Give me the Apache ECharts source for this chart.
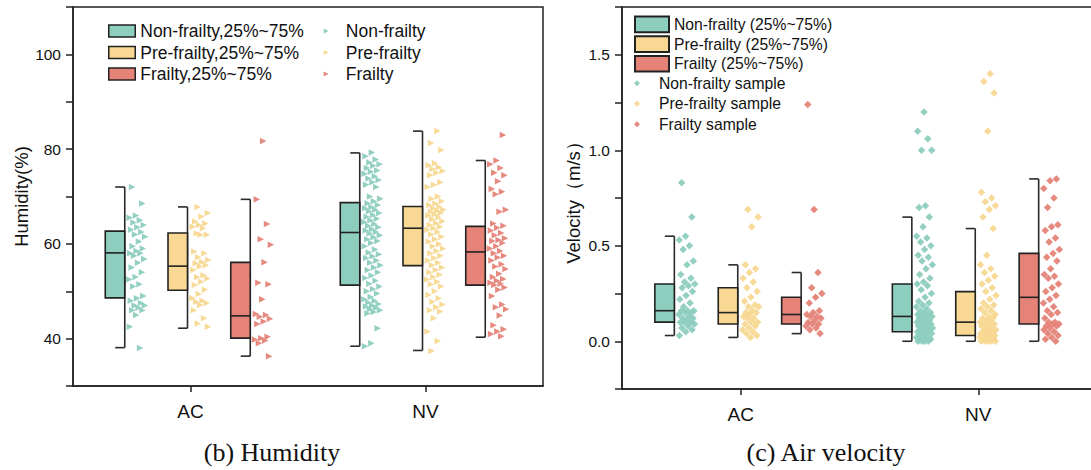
<!DOCTYPE html>
<html><head><meta charset="utf-8">
<script src="https://cdn.jsdelivr.net/npm/echarts@6/dist/echarts.min.js"></script>
<style>html,body{margin:0;padding:0;background:#fff}#c{width:1091px;height:470px}</style>
</head><body><div id="c"></div>
<script>
// ---------------- data ----------------
const categories = ['AC', 'NV'];
const humTickLabels = [40, 60, 80, 100];
const velTickLabels = [0, 0.5, 1.0, 1.5];

// box statistics [lower whisker, Q1, median, Q3, upper whisker] per category (AC, NV)
const humBoxNon = [[38.1, 48.6, 58.1, 62.7, 72.0], [38.4, 51.3, 62.4, 68.7, 79.2]];
const humBoxPre = [[42.2, 50.2, 55.3, 62.3, 67.8], [37.5, 55.4, 63.3, 67.9, 83.8]];
const humBoxFra = [[36.3, 40.1, 44.8, 56.1, 69.4], [40.3, 51.3, 58.3, 63.7, 77.6]];
const velBoxNon = [[0.03, 0.10, 0.16, 0.30, 0.55], [0.00, 0.05, 0.13, 0.30, 0.65]];
const velBoxPre = [[0.02, 0.09, 0.15, 0.28, 0.40], [0.00, 0.03, 0.10, 0.26, 0.59]];
const velBoxFra = [[0.04, 0.09, 0.14, 0.23, 0.36], [0.00, 0.09, 0.23, 0.46, 0.85]];

// humidity samples
const humNonAC = [72.0,68.5,66.0,65.5,65.0,64.5,64.0,63.5,63.0,62.5,62.0,61.5,60.5,59.5,59.0,58.5,58.0,58.0,57.5,56.8,56.0,55.0,54.0,53.0,52.5,51.5,51.0,49.0,48.5,48.0,47.5,47.0,47.0,46.5,46.0,46.0,45.0,42.5,38.0];
const humNonNV = [79.3,78.5,77.8,77.2,76.8,76.5,76.0,75.5,75.2,74.8,74.3,73.8,73.5,73.0,72.5,72.0,70.0,69.5,69.0,68.6,68.2,67.8,67.5,67.2,66.9,66.5,66.1,65.7,65.3,65.0,64.6,64.2,63.8,63.5,63.1,62.8,62.5,62.2,61.8,61.4,61.0,60.6,60.2,59.5,58.8,58.2,57.8,57.4,57.0,56.5,56.0,55.5,55.0,54.5,54.0,53.3,52.8,52.2,51.6,51.0,50.5,50.0,49.5,48.8,48.3,48.0,47.6,47.3,47.0,46.8,46.5,46.2,46.0,45.6,45.3,42.2,39.0,38.4];
const humPreAC = [67.8,66.5,65.8,64.7,64.3,64.0,63.6,63.3,62.2,61.9,61.9,58.4,58.0,57.2,56.6,56.2,55.9,55.5,55.2,54.5,53.4,53.0,52.7,52.0,51.3,50.3,49.4,48.5,48.0,47.8,47.5,47.1,46.0,44.3,43.2,42.5];
const humPreNV = [83.8,81.3,79.8,77.0,76.6,76.2,75.8,75.4,75.0,74.5,73.0,72.5,72.0,70.0,69.5,69.0,68.5,68.2,67.8,67.5,67.2,67.0,66.8,66.5,66.2,66.0,65.6,65.2,64.8,64.4,64.0,63.6,63.3,63.0,62.5,62.0,61.5,61.0,60.5,60.0,59.5,59.0,58.5,58.0,57.5,57.0,56.5,56.0,55.5,55.0,54.5,54.0,53.5,53.0,52.5,52.0,51.5,51.0,50.0,49.2,48.5,47.8,47.2,46.6,46.0,45.7,44.3,41.5,39.5,37.4];
const humFraAC = [81.7,69.4,64.2,61.0,59.8,56.1,51.8,51.5,48.3,45.2,45.0,44.6,44.2,43.6,43.1,40.4,40.1,39.8,39.6,39.0,36.3];
const humFraNV = [83.0,77.6,76.8,76.0,75.0,74.5,73.2,71.6,71.0,70.5,67.2,66.8,64.3,63.8,63.4,62.8,62.3,61.8,61.2,60.8,60.6,60.2,59.5,59.0,58.5,58.0,57.5,57.1,56.5,55.7,55.2,54.7,53.7,53.0,52.6,52.2,51.8,51.6,51.3,50.8,50.3,49.0,47.2,46.6,46.2,44.9,42.8,42.0,41.5,41.0,40.5];

// air velocity samples
const velNonAC = [0.83,0.65,0.55,0.53,0.50,0.48,0.42,0.40,0.35,0.33,0.31,0.30,0.29,0.28,0.26,0.24,0.22,0.20,0.18,0.16,0.16,0.16,0.15,0.15,0.14,0.13,0.12,0.12,0.11,0.10,0.10,0.10,0.09,0.08,0.07,0.06,0.05,0.03];
const velNonNV = [1.20,1.10,1.06,1.00,1.00,0.71,0.70,0.65,0.60,0.55,0.54,0.52,0.50,0.48,0.45,0.44,0.42,0.40,0.38,0.35,0.33,0.31,0.30,0.29,0.27,0.25,0.23,0.21,0.20,0.19,0.18,0.17,0.16,0.15,0.15,0.14,0.14,0.13,0.13,0.12,0.12,0.11,0.11,0.10,0.10,0.10,0.09,0.09,0.08,0.08,0.08,0.07,0.07,0.06,0.06,0.05,0.05,0.05,0.04,0.04,0.03,0.03,0.02,0.02,0.02,0.01,0.01,0.01,0.00,0.00,0.00,0.00];
const velPreAC = [0.69,0.65,0.60,0.40,0.38,0.36,0.33,0.31,0.28,0.26,0.23,0.21,0.19,0.18,0.18,0.16,0.15,0.15,0.14,0.13,0.12,0.12,0.10,0.10,0.09,0.08,0.07,0.06,0.05,0.04,0.03,0.02];
const velPreNV = [1.40,1.36,1.30,1.10,0.78,0.75,0.73,0.71,0.69,0.65,0.59,0.45,0.40,0.38,0.36,0.34,0.32,0.30,0.28,0.26,0.24,0.22,0.20,0.19,0.18,0.17,0.16,0.15,0.14,0.13,0.12,0.12,0.11,0.10,0.10,0.09,0.09,0.08,0.08,0.07,0.07,0.06,0.06,0.05,0.05,0.05,0.04,0.04,0.04,0.03,0.03,0.03,0.02,0.02,0.02,0.01,0.01,0.01,0.00,0.00,0.00,0.00,0.00];
const velFraAC = [0.69,1.24,0.36,0.28,0.25,0.23,0.20,0.16,0.15,0.14,0.13,0.13,0.12,0.11,0.10,0.09,0.09,0.08,0.07,0.06,0.04];
const velFraNV = [0.85,0.84,0.80,0.75,0.70,0.61,0.60,0.58,0.54,0.52,0.48,0.46,0.44,0.42,0.38,0.35,0.34,0.33,0.30,0.28,0.26,0.24,0.22,0.20,0.18,0.16,0.15,0.14,0.12,0.10,0.10,0.09,0.09,0.08,0.08,0.07,0.06,0.05,0.04,0.03,0.02,0.01,0.00];

// ---------------- layout / style ----------------
const C_TEAL = '#8DCEBF', C_YEL = '#F8D892', C_RED = '#E58378';
const SANS = "'Liberation Sans', Arial, sans-serif";
const SERIF = "'Liberation Serif', 'Times New Roman', serif";
const GROUP_OFF = [-0.534, 0, 0.534];
const PANELS = [
  { valAxis: 2, yAxis: 0, pxPerUnit: 470 / 4 },
  { valAxis: 3, yAxis: 1, pxPerUnit: 475 / 4 }
];

function boxSeries(name, boxes, g, panel, color) {
  return {
    type: 'custom', name, xAxisIndex: panel.valAxis, yAxisIndex: panel.yAxis,
    itemStyle: { color, borderColor: '#222', borderWidth: 1.6 },
    encode: { x: 0, y: [1, 2, 3, 4, 5] },
    data: boxes.map((b, i) => [2 * i + 1 + GROUP_OFF[g]].concat(b)),
    z: 2,
    renderItem(params, api) {
      const x = api.value(0);
      const lo = api.coord([x, api.value(1)]);
      const q1 = api.coord([x, api.value(2)]);
      const md = api.coord([x, api.value(3)]);
      const q3 = api.coord([x, api.value(4)]);
      const hi = api.coord([x, api.value(5)]);
      const c = md[0], wx = c - 3, bl = c - 22.5;
      const ls = { stroke: '#2a2a2a', lineWidth: 1.6 };
      return { type: 'group', children: [
        { type: 'line', shape: { x1: wx, y1: hi[1], x2: wx, y2: lo[1] }, style: ls },
        { type: 'line', shape: { x1: wx - 9.5, y1: hi[1], x2: wx, y2: hi[1] }, style: ls },
        { type: 'line', shape: { x1: wx - 9.5, y1: lo[1], x2: wx, y2: lo[1] }, style: ls },
        { type: 'rect', shape: { x: bl, y: q3[1], width: wx - bl, height: q1[1] - q3[1] },
          style: { fill: color, stroke: '#222', lineWidth: 1.6 } },
        { type: 'line', shape: { x1: bl, y1: md[1], x2: wx, y2: md[1] }, style: { stroke: '#222', lineWidth: 1.6 } }
      ] };
    }
  };
}

function sampleSeries(name, perCat, g, panel, color, symbol, size, rotate) {
  const data = [];
  perCat.forEach((vals, ci) => {
    vals.forEach((v, k) => {
      const u = (k * 0.6180339887 + 0.17 * (g + 1) + 0.29 * ci) % 1;
      data.push([2 * ci + 1 + GROUP_OFF[g] + (1.5 + u * 16.5) / panel.pxPerUnit, v]);
    });
  });
  return {
    type: 'scatter', name, xAxisIndex: panel.valAxis, yAxisIndex: panel.yAxis,
    symbol, symbolSize: size, symbolRotate: rotate, z: 3,
    itemStyle: { color, opacity: 0.95 }, data, silent: true
  };
}

const TRI = 'path://M0,0L10,5L0,10Z';
const DIA = 'path://M5,0L10,5L5,10L0,5Z';

function catAxis(grid) {
  return {
    type: 'category', gridIndex: grid, data: categories, boundaryGap: true,
    axisLine: { show: true, onZero: false, lineStyle: { color: '#222', width: 1.5 } },
    axisTick: { show: true, alignWithLabel: true, length: 6, lineStyle: { color: '#222', width: 1.5 } },
    axisLabel: { fontSize: 19, color: '#111', fontFamily: SANS, margin: 16 },
    splitLine: { show: false }
  };
}
function yAxisBase(grid) {
  return {
    type: 'value', gridIndex: grid, nameLocation: 'middle', nameRotate: 90,
    nameTextStyle: { fontSize: 18.5, color: '#111', fontFamily: SANS },
    axisLine: { show: true, onZero: false, lineStyle: { color: '#222', width: 1.5 } },
    axisTick: { show: true, length: 7, lineStyle: { color: '#222', width: 1.5 } },
    splitLine: { show: false }
  };
}

const humY = Object.assign(yAxisBase(0), {
  min: 30, max: 110, interval: 10, name: 'Humidity(%)', nameGap: 36,
  axisLabel: { fontSize: 15.5, color: '#111', fontFamily: SANS, margin: 12,
    formatter: v => humTickLabels.indexOf(v) >= 0 ? String(v) : '' }
});
const velY = Object.assign(yAxisBase(1), {
  min: -0.25, max: 1.75, interval: 0.25, name: 'Velocity（m/s）', nameGap: 39,
  axisLabel: { fontSize: 15.5, color: '#111', fontFamily: SANS, margin: 12,
    formatter: v => velTickLabels.some(t => Math.abs(t - v) < 1e-9) ? v.toFixed(1) : '' }
});

const legText = (fs, lh) => ({ fontSize: fs, lineHeight: lh, color: '#111', fontFamily: SANS });

const option = {
  animation: false,
  backgroundColor: '#fff',
  grid: [
    { left: 73, top: 7, width: 470, height: 379, show: true, borderColor: '#222', borderWidth: 1.5, backgroundColor: 'transparent', outerBoundsMode: 'none' },
    { left: 622, top: 7, width: 475, height: 382, show: true, borderColor: '#222', borderWidth: 1.5, backgroundColor: 'transparent', outerBoundsMode: 'none' }
  ],
  xAxis: [
    catAxis(0), catAxis(1),
    { type: 'value', gridIndex: 0, min: 0, max: 4, show: false },
    { type: 'value', gridIndex: 1, min: 0, max: 4, show: false }
  ],
  yAxis: [humY, velY],
  legend: [
    { orient: 'vertical', left: 108, top: 22, padding: 0, itemWidth: 26.5, itemHeight: 12, itemGap: 3.5, selectedMode: false,
      textStyle: legText(17.5, 17.5), icon: 'rect',
      itemStyle: { borderColor: '#222', borderWidth: 1.5 },
      data: ['Non-frailty,25%~75%', 'Pre-frailty,25%~75%', 'Frailty,25%~75%'] },
    { orient: 'vertical', left: 323.6, top: 22, padding: 0, itemWidth: 29.4, itemHeight: 5, itemGap: 3.5, selectedMode: false,
      textStyle: legText(17.5, 17.5), symbolRotate: 0,
      data: [{ name: 'Non-frailty', icon: TRI }, { name: 'Pre-frailty', icon: TRI }, { name: 'Frailty', icon: TRI }] },
    { orient: 'vertical', left: 634, top: 15.5, padding: 0, itemWidth: 34, itemHeight: 15.7, itemGap: 2, selectedMode: false,
      textStyle: legText(15.7, 17.7), icon: 'rect',
      itemStyle: { borderColor: '#222', borderWidth: 2 },
      data: ['Non-frailty (25%~75%)', 'Pre-frailty (25%~75%)', 'Frailty (25%~75%)'] },
    { orient: 'vertical', left: 634, top: 75, padding: 0, itemWidth: 34, itemHeight: 6, itemGap: 4, selectedMode: false,
      textStyle: legText(15.7, 16.5), symbolRotate: 0,
      data: [{ name: 'Non-frailty sample', icon: DIA }, { name: 'Pre-frailty sample', icon: DIA }, { name: 'Frailty sample', icon: DIA }] }
  ],
  series: [
    boxSeries('Non-frailty,25%~75%', humBoxNon, 0, PANELS[0], C_TEAL),
    boxSeries('Pre-frailty,25%~75%', humBoxPre, 1, PANELS[0], C_YEL),
    boxSeries('Frailty,25%~75%', humBoxFra, 2, PANELS[0], C_RED),
    sampleSeries('Non-frailty', [humNonAC, humNonNV], 0, PANELS[0], C_TEAL, 'triangle', 6.5, -90),
    sampleSeries('Pre-frailty', [humPreAC, humPreNV], 1, PANELS[0], C_YEL, 'triangle', 6.5, -90),
    sampleSeries('Frailty', [humFraAC, humFraNV], 2, PANELS[0], C_RED, 'triangle', 6.5, -90),
    boxSeries('Non-frailty (25%~75%)', velBoxNon, 0, PANELS[1], C_TEAL),
    boxSeries('Pre-frailty (25%~75%)', velBoxPre, 1, PANELS[1], C_YEL),
    boxSeries('Frailty (25%~75%)', velBoxFra, 2, PANELS[1], C_RED),
    sampleSeries('Non-frailty sample', [velNonAC, velNonNV], 0, PANELS[1], C_TEAL, 'diamond', 7.5, 0),
    sampleSeries('Pre-frailty sample', [velPreAC, velPreNV], 1, PANELS[1], C_YEL, 'diamond', 7.5, 0),
    sampleSeries('Frailty sample', [velFraAC, velFraNV], 2, PANELS[1], C_RED, 'diamond', 7.5, 0)
  ],
  graphic: [
    { type: 'text', x: 272, y: 452, style: { text: '(b) Humidity', fontSize: 26, fontFamily: SERIF, fill: '#111', align: 'center', verticalAlign: 'middle' } },
    { type: 'text', x: 826, y: 452, style: { text: '(c) Air velocity', fontSize: 26, fontFamily: SERIF, fill: '#111', align: 'center', verticalAlign: 'middle' } }
  ]
};

const chart = echarts.init(document.getElementById('c'), null, { renderer: 'svg', width: 1091, height: 470 });
chart.setOption(option);
</script>
</body></html>
